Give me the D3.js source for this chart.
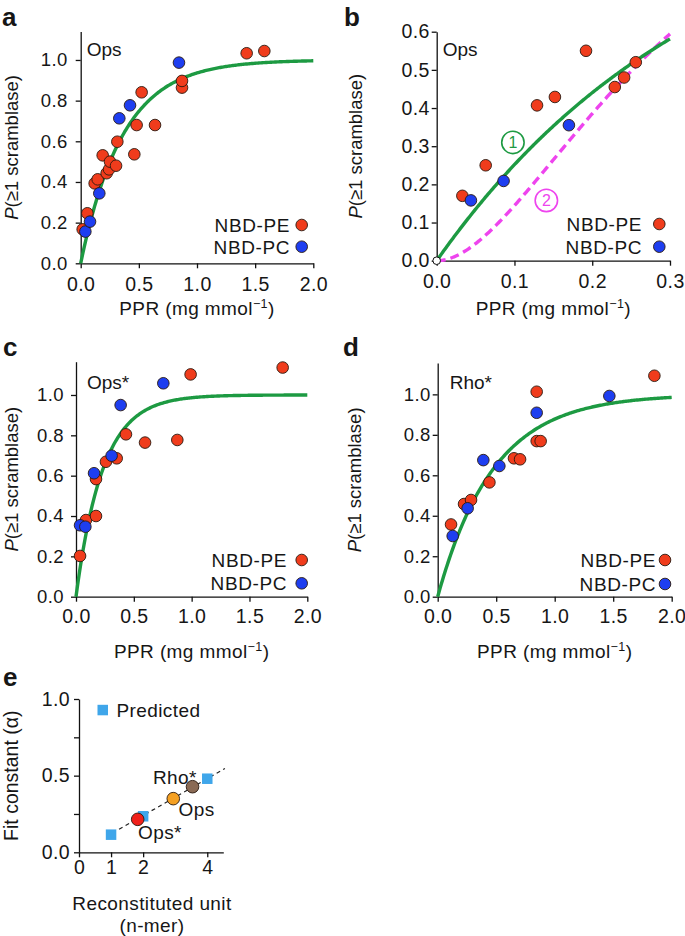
<!DOCTYPE html>
<html><head><meta charset="utf-8">
<script src="https://cdn.jsdelivr.net/npm/d3@7"></script>
<style>
body{margin:0;background:#fff}
svg{display:block}
text{font-family:"Liberation Sans",Arial,Helvetica,sans-serif;fill:#161616}
</style>
</head><body>
<svg id="fig" width="685" height="936"></svg>
<script>
// ---------- DATA ----------
// Panel a (Ops)
const aPE_ppr = [0.017,0.057,0.12,0.146,0.189,0.223,0.244,0.252,0.304,0.315,0.461,0.481,0.524,0.639,0.871,0.871,1.427,1.579];
const aPE_p   = [0.167,0.246,0.393,0.413,0.531,0.443,0.462,0.50,0.48,0.598,0.536,0.68,0.841,0.68,0.864,0.897,1.033,1.044];
const aPC_ppr = [0.04,0.08,0.16,0.332,0.424,0.845];
const aPC_p   = [0.156,0.205,0.344,0.713,0.777,0.987];
// Panel b (Ops, low PPR)
const bPE_ppr = [0.033,0.063,0.129,0.152,0.192,0.229,0.241,0.256];
const bPE_p   = [0.170,0.250,0.407,0.429,0.550,0.455,0.480,0.520];
const bPC_ppr = [0.044,0.086,0.170];
const bPC_p   = [0.158,0.209,0.355];
// Panel c (Ops*)
const cPE_ppr = [0.035,0.086,0.173,0.173,0.259,0.352,0.432,0.597,0.876,0.991,1.787];
const cPE_p   = [0.202,0.380,0.583,0.400,0.669,0.686,0.805,0.764,0.777,1.102,1.136];
const cPC_ppr = [0.035,0.081,0.156,0.308,0.386,0.755];
const cPC_p   = [0.354,0.347,0.612,0.699,0.950,1.058];
// Panel d (Rho*)
const dPE_ppr = [0.114,0.225,0.285,0.442,0.652,0.704,0.846,0.846,0.880,1.852];
const dPE_p   = [0.357,0.458,0.478,0.565,0.684,0.679,1.013,0.769,0.769,1.092];
const dPC_ppr = [0.128,0.256,0.390,0.527,0.846,1.467];
const dPC_p   = [0.300,0.437,0.675,0.646,0.909,0.992];
// Fit rate constants (P = 1 - exp(-k*PPR)); curve 2 in b: P(>=2)
const fitK = {a:2.75, b:2.9, c:4.3, d:2.1};
const fitK2b = 6.67;
// Panel e
const predN = [1,2,4];
const predAlpha = [0.115,0.235,0.48];
const fitNames = ["Ops*","Ops","Rho*"];
const fitN = [1.83,2.94,3.54];
const fitAlpha = [0.215,0.35,0.428];
const lineN = [1.25,4.55];
const lineAlpha = [0.15,0.546];
// Ticks
const xTicks2 = [0,0.5,1,1.5,2];
const yTicks12 = [0,0.2,0.4,0.6,0.8,1.0];
const xTicksB = [0,0.1,0.2,0.3];
const yTicksB = [0,0.1,0.2,0.3,0.4,0.5,0.6];
const xTicksE = [0,1,2,4];
const yTicksE = [0,0.25,0.5,0.75,1];
const yLabelsE = [0,0.5,1];

const RED="#f03c1c", BLUE="#1e3ef0", GREEN="#1d9a42", MAG="#ee44ee";
const FS = 19, LS = "0.4px";
const svg = d3.select("#fig");

function drawAxes(g, x, y, xt, yt, xfmt, yfmt, opt){
  const ax = g.append("g").attr("transform",`translate(0,${y.range()[0]})`)
    .call(d3.axisBottom(x).tickValues(xt).tickFormat(xfmt).tickSizeInner(5).tickSizeOuter(0).tickPadding(opt.xpad));
  const ay = g.append("g").attr("transform",`translate(${x.range()[0]},0)`)
    .call(d3.axisLeft(y).tickValues(yt).tickFormat(yfmt).tickSizeInner(5).tickSizeOuter(0).tickPadding(opt.ypad));
  [ax,ay].forEach(a=>{
    a.select(".domain").attr("stroke","#111").attr("stroke-width",1.3);
    a.selectAll(".tick line").attr("stroke","#111").attr("stroke-width",1.3);
    a.selectAll("text").style("font-family",'"Liberation Sans",Arial,sans-serif').attr("fill","#161616")
      .style("letter-spacing",LS);
  });
  ax.selectAll("text").style("font-size",opt.xfs+"px");
  ay.selectAll("text").style("font-size",opt.yfs+"px");
  return {ax,ay};
}

function yTitle(g, cx, cy, fs){
  const t = g.append("text").attr("transform",`translate(${cx},${cy}) rotate(-90)`)
    .attr("text-anchor","middle").style("font-size",fs+"px");
  t.append("tspan").style("font-style","italic").text("P");
  t.append("tspan").text("(≥1 scramblase)");
}
function xTitle(g, cx, by, fs){
  const t = g.append("text").attr("x",cx).attr("y",by).attr("text-anchor","middle")
    .style("font-size",fs+"px").style("letter-spacing",LS);
  t.append("tspan").text("PPR (mg mmol");
  t.append("tspan").attr("dy",-7).style("font-size",(fs*0.66)+"px").text("−1");
  t.append("tspan").attr("dy",7).text(")");
}

function panel(cfg){
  const g = svg.append("g");
  const x = d3.scaleLinear().domain(cfg.xd).range([cfg.left,cfg.right]);
  const y = d3.scaleLinear().domain(cfg.yd).range([cfg.bottom,cfg.top]);
  drawAxes(g,x,y,cfg.xt,cfg.yt,d3.format(cfg.xf),d3.format(".1f"),cfg.axopt);
  const xs = d3.range(0, cfg.xd[1]*1.0001, cfg.xd[1]/200);
  const line = d3.line().x(d=>x(d[0])).y(d=>y(d[1]));
  if (cfg.k2){
    g.append("path").datum(xs.map(v=>[v, 1-Math.exp(-cfg.k2*v)*(1+cfg.k2*v)]))
      .attr("d",line).attr("fill","none").attr("stroke",MAG).attr("stroke-width",3.4).attr("stroke-dasharray","9,5");
  }
  g.append("path").datum(xs.map(v=>[v, 1-Math.exp(-cfg.k*v)]))
    .attr("d",line).attr("fill","none").attr("stroke",GREEN).attr("stroke-width",3.4);
  const pe = cfg.peX.map((v,i)=>[v,cfg.peY[i]]);
  const pc = cfg.pcX.map((v,i)=>[v,cfg.pcY[i]]);
  const all = pe.map(d=>[d,RED]).concat(pc.map(d=>[d,BLUE]));
  g.selectAll("circle.pt").data(all).join("circle").attr("class","pt")
    .attr("cx",d=>x(d[0][0])).attr("cy",d=>y(d[0][1])).attr("r",5.8)
    .attr("fill",d=>d[1]).attr("stroke","#2a1a10").attr("stroke-width",0.9);
  const L = cfg.leg;
  [["NBD-PE",RED,L.y1],["NBD-PC",BLUE,L.y2]].forEach(([t,c,yy])=>{
    g.append("text").attr("x",L.tx).attr("y",yy).attr("dy","0.36em").attr("text-anchor","end")
      .style("font-size","19px").style("letter-spacing","0.6px").text(t);
    g.append("circle").attr("cx",L.cx).attr("cy",yy).attr("r",5.8).attr("fill",c)
      .attr("stroke","#2a1a10").attr("stroke-width",0.9);
  });
  g.append("text").attr("x",cfg.left+cfg.lab[0]).attr("y",cfg.top+cfg.lab[1]).style("font-size","19px").text(cfg.name);
  g.append("text").attr("x",cfg.letter[0]).attr("y",cfg.letter[1]).style("font-size","26px").style("font-weight","bold").text(cfg.id);
  yTitle(g, cfg.yt_x, (cfg.top+cfg.bottom)/2, 18.5);
  xTitle(g, (cfg.left+cfg.right)/2, cfg.xt_y, FS);
  return {g,x,y};
}

panel({id:"a",name:"Ops",left:80.7,right:313.3,bottom:263.3,top:31.5,xd:[0,2],yd:[0,1.14],
  xt:xTicks2,yt:yTicks12,xf:".1f",k:fitK.a,
  peX:aPE_ppr,peY:aPE_p,pcX:aPC_ppr,pcY:aPC_p,
  axopt:{xpad:9,ypad:8,xfs:19.5,yfs:18.5},
  leg:{tx:290,cx:301.7,y1:225,y2:246.7}, lab:[6,24], letter:[2,26], yt_x:18, xt_y:315});

const pb = panel({id:"b",name:"Ops",left:436.7,right:670,bottom:260.7,top:31.7,xd:[0,0.3],yd:[0,0.6],
  xt:xTicksB,yt:yTicksB,xf:".1f",k:fitK.b,k2:fitK2b,
  peX:bPE_ppr,peY:bPE_p,pcX:bPC_ppr,pcY:bPC_p,
  axopt:{xpad:8,ypad:2,xfs:19.5,yfs:19.5},
  leg:{tx:642,cx:659.3,y1:224,y2:246.7}, lab:[6,24], letter:[344,26], yt_x:362, xt_y:315});
[[0.098,0.31,"1",GREEN],[0.141,0.158,"2",MAG]].forEach(([dx,dy,t,c])=>{
  pb.g.append("circle").attr("cx",pb.x(dx)).attr("cy",pb.y(dy)).attr("r",11.2).attr("fill","#fff")
    .attr("stroke",c).attr("stroke-width",1.6);
  pb.g.append("text").attr("x",pb.x(dx)).attr("y",pb.y(dy)).attr("dy","0.36em").attr("text-anchor","middle")
    .style("font-size","16px").style("fill",c).text(t);
});
pb.g.append("circle").attr("cx",pb.x(0)).attr("cy",pb.y(0)).attr("r",3.8).attr("fill","#fff").attr("stroke","#111").attr("stroke-width",1);

panel({id:"c",name:"Ops*",left:76,right:307.3,bottom:596.7,top:361.7,xd:[0,2],yd:[0,1.165],
  xt:xTicks2,yt:yTicks12,xf:".1f",k:fitK.c,
  peX:cPE_ppr,peY:cPE_p,pcX:cPC_ppr,pcY:cPC_p,
  axopt:{xpad:7,ypad:7,xfs:19.5,yfs:18.5},
  leg:{tx:287,cx:301.7,y1:560,y2:583.3}, lab:[11,27], letter:[3,356], yt_x:18, xt_y:658});

panel({id:"d",name:"Rho*",left:437.7,right:671.7,bottom:596.7,top:363,xd:[0,2],yd:[0,1.155],
  xt:xTicks2,yt:yTicks12,xf:".1f",k:fitK.d,
  peX:dPE_ppr,peY:dPE_p,pcX:dPC_ppr,pcY:dPC_p,
  axopt:{xpad:7,ypad:2,xfs:19.5,yfs:18.5},
  leg:{tx:656,cx:665,y1:560,y2:584}, lab:[12,26], letter:[343,356], yt_x:361, xt_y:658});

// ---------- Panel e ----------
(function(){
  const g = svg.append("g");
  const x = d3.scaleLinear().domain([0,4.5]).range([79,223.3]);
  const y = d3.scaleLinear().domain([0,1]).range([852.3,699]);
  drawAxes(g,x,y,xTicksE,yTicksE,d3.format("d"),
     v=>yLabelsE.includes(v)?d3.format(".1f")(v):"", {xpad:3,ypad:4,xfs:19.5,yfs:19.5});
  g.append("path").datum(lineN.map((n,i)=>[n,lineAlpha[i]]))
    .attr("d",d3.line().x(d=>x(d[0])).y(d=>y(d[1])))
    .attr("fill","none").attr("stroke","#222").attr("stroke-width",1.2).attr("stroke-dasharray","4,3.5");
  const SQ = 10.5;
  g.selectAll("rect.pred").data(predN.map((n,i)=>[n,predAlpha[i]])).join("rect").attr("class","pred")
    .attr("x",d=>x(d[0])-SQ/2).attr("y",d=>y(d[1])-SQ/2).attr("width",SQ).attr("height",SQ).attr("fill","#3fa6ea");
  const cols = ["#f0201a","#f5a021","#8a6a55"];
  g.selectAll("circle.fit").data(fitN.map((n,i)=>[n,fitAlpha[i],cols[i]])).join("circle").attr("class","fit")
    .attr("cx",d=>x(d[0])).attr("cy",d=>y(d[1])).attr("r",6.3).attr("fill",d=>d[2])
    .attr("stroke","#2a1a10").attr("stroke-width",0.9);
  const labs = [["Ops*",138,832],["Ops",178.5,809.5],["Rho*",153,777]];
  labs.forEach(([t,xx,yy])=>g.append("text").attr("x",xx).attr("y",yy).attr("dy","0.36em")
    .style("font-size","19px").style("letter-spacing",LS).text(t));
  g.append("rect").attr("x",97.5).attr("y",704.8).attr("width",SQ).attr("height",SQ).attr("fill","#3fa6ea");
  g.append("text").attr("x",116.5).attr("y",710).attr("dy","0.36em").style("font-size","19px").style("letter-spacing",LS).text("Predicted");
  g.append("text").attr("x",3).attr("y",686).style("font-size","26px").style("font-weight","bold").text("e");
  g.append("text").attr("transform",`translate(18,775.7) rotate(-90)`).attr("text-anchor","middle")
    .style("font-size","19.5px").text("Fit constant (α)");
  g.append("text").attr("x",152).attr("y",910).attr("text-anchor","middle").style("font-size","19px").style("letter-spacing",LS).text("Reconstituted unit");
  g.append("text").attr("x",152).attr("y",932).attr("text-anchor","middle").style("font-size","19px").style("letter-spacing",LS).text("(n-mer)");
})();
</script>
</body></html>
